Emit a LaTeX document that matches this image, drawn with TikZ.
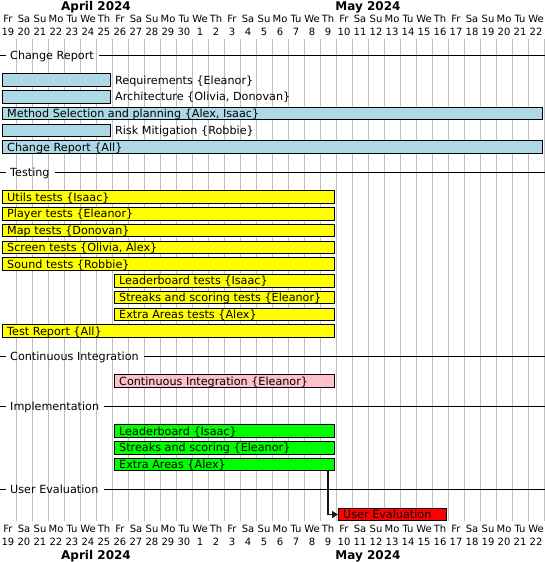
\documentclass[tikz,border=0pt]{standalone}
\usepackage{fontspec}
\setmainfont{DejaVu Sans}
\usetikzlibrary{arrows.meta}

\definecolor{gridgray}{HTML}{C0C0C0}
\definecolor{barblue}{HTML}{ADD8E6}
\definecolor{baryellow}{HTML}{FFFF00}
\definecolor{barpink}{HTML}{FFC0CB}
\definecolor{bargreen}{HTML}{00FF00}
\definecolor{barred}{HTML}{FF0000}
\definecolor{linkgray}{HTML}{181818}

% task bar with its label inside: name, first day, last day, row y, colour, label
\newcommand\taskin[6]{%
  \node[taskbar, fill=#5, minimum width={16*(#3-#2+1)-4}] (#1) at ({16*#2+2},#4) {};
  \coordinate (#1-b) at (0,#4+4);
  \node[tasklabel] (#1-t) at ([xshift=5pt]#1.west |- #1-b) {#6};}
% task bar with its label to the right of the bar
\newcommand\taskout[6]{%
  \node[taskbar, fill=#5, minimum width={16*(#3-#2+1)-4}] (#1) at ({16*#2+2},#4) {};
  \coordinate (#1-b) at (0,#4+4);
  \node[tasklabel] (#1-t) at ([xshift=4pt]#1.east |- #1-b) {#6};}
% group heading: name, line y, title
\newcommand\ganttgroup[3]{%
  \node[seplabel] (#1) at (10,#2+4) {#3};
  \coordinate (#1-l) at (0,#2);
  \coordinate (#1-r) at (545,#2);
  \draw[sepline] (#1-l) -- ([xshift=-4pt]#1.west |- #1-l);
  \draw[sepline] ([xshift=5pt]#1.east |- #1-r) -- (#1-r);}

\begin{document}
\begin{tikzpicture}[x=1pt, y=-1pt,
  gridline/.style={draw=gridgray, line width=1pt},
  sepline/.style={draw=black, line width=1pt},
  taskbar/.style={draw=black, line width=0.9pt, rectangle, inner sep=0pt,
    minimum height=12.5pt, anchor=west},
  tasklabel/.style={anchor=base west, inner sep=0pt, font=\fontsize{11.2}{13}\selectfont},
  seplabel/.style={anchor=base west, inner sep=0pt, font=\fontsize{11.2}{13}\selectfont},
  dayname/.style={anchor=base, inner sep=0pt, font=\fontsize{10}{12}\selectfont},
  monthname/.style={anchor=base, inner sep=0pt, font=\fontsize{12}{14}\selectfont\bfseries},
  link/.style={draw=linkgray, line width=1.5pt, -{Triangle[length=6pt, width=7pt]}}]

\useasboundingbox (0,0) rectangle (545,562);

% day columns
\foreach \i in {1,...,34} {
  \coordinate (gt\i) at (16*\i,39);
  \coordinate (gb\i) at (16*\i,521);
  \draw[gridline] (gt\i) -- (gb\i);
}

% calendar header and footer
\foreach \n/\d [count=\i from 0] in {Fr/19,Sa/20,Su/21,Mo/22,Tu/23,We/24,Th/25,
    Fr/26,Sa/27,Su/28,Mo/29,Tu/30,We/1,Th/2,Fr/3,Sa/4,Su/5,Mo/6,Tu/7,We/8,Th/9,
    Fr/10,Sa/11,Su/12,Mo/13,Tu/14,We/15,Th/16,Fr/17,Sa/18,Su/19,Mo/20,Tu/21,We/22} {
  \node[dayname] (tn\i) at (16*\i+8,22.7) {\n};
  \node[dayname] (td\i) at (16*\i+8,35.5) {\d};
  \node[dayname] (bn\i) at (16*\i+8,532.5) {\n};
  \node[dayname] (bd\i) at (16*\i+8,545.5) {\d};
}
\node[monthname] (aprtop) at (96,10.5) {April 2024};
\node[monthname] (maytop) at (368,10.5) {May 2024};
\node[monthname] (aprbot) at (96,559.5) {April 2024};
\node[monthname] (maybot) at (368,559.5) {May 2024};

% Change Report
\ganttgroup{secA}{55}{Change Report}
\taskout{req}{0}{6}{80}{barblue}{Requirements \{Eleanor\}}
\taskout{arch}{0}{6}{96.75}{barblue}{Architecture \{Olivia, Donovan\}}
\taskin{meth}{0}{33}{113.5}{barblue}{Method Selection and planning \{Alex, Isaac\}}
\taskout{risk}{0}{6}{130.25}{barblue}{Risk Mitigation \{Robbie\}}
\taskin{crep}{0}{33}{147}{barblue}{Change Report \{All\}}

% Testing
\ganttgroup{secB}{172}{Testing}
\taskin{utils}{0}{20}{197}{baryellow}{Utils tests \{Isaac\}}
\taskin{player}{0}{20}{213.75}{baryellow}{Player tests \{Eleanor\}}
\taskin{map}{0}{20}{230.5}{baryellow}{Map tests \{Donovan\}}
\taskin{screen}{0}{20}{247.25}{baryellow}{Screen tests \{Olivia, Alex\}}
\taskin{sound}{0}{20}{264}{baryellow}{Sound tests \{Robbie\}}
\taskin{lbtest}{7}{20}{280.75}{baryellow}{Leaderboard tests \{Isaac\}}
\taskin{sstest}{7}{20}{297.5}{baryellow}{Streaks and scoring tests \{Eleanor\}}
\taskin{eatest}{7}{20}{314.25}{baryellow}{Extra Areas tests \{Alex\}}
\taskin{trep}{0}{20}{331}{baryellow}{Test Report \{All\}}

% Continuous Integration
\ganttgroup{secC}{356}{Continuous Integration}
\taskin{ci}{7}{20}{381}{barpink}{Continuous Integration \{Eleanor\}}

% Implementation
\ganttgroup{secD}{406}{Implementation}
\taskin{lb}{7}{20}{431}{bargreen}{Leaderboard \{Isaac\}}
\taskin{ss}{7}{20}{447.75}{bargreen}{Streaks and scoring \{Eleanor\}}
\taskin{ea}{7}{20}{464.5}{bargreen}{Extra Areas \{Alex\}}

% User Evaluation
\ganttgroup{secE}{489.5}{User Evaluation}
\taskin{ue}{21}{27}{514.5}{barred}{User Evaluation}

% dependency
\coordinate (eaout) at ([xshift=-7pt]ea.south east);
\draw[link] (eaout) |- (ue.west);

\end{tikzpicture}
\end{document}
